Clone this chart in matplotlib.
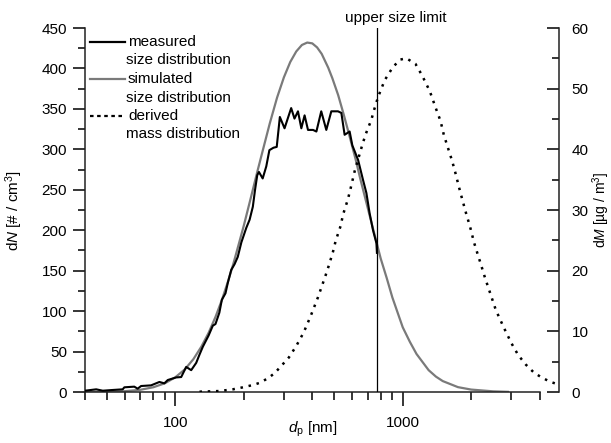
import numpy as np
import matplotlib
matplotlib.use("Agg")
import matplotlib.pyplot as plt
from matplotlib.ticker import LogLocator, NullFormatter, FixedLocator, FixedFormatter, MultipleLocator

plt.rcParams['font.family'] = ['Liberation Sans', 'DejaVu Sans']
plt.rcParams['font.size'] = 11
plt.rcParams['mathtext.fontset'] = 'custom'
plt.rcParams['mathtext.rm'] = 'Liberation Sans'
plt.rcParams['mathtext.it'] = 'Liberation Sans:italic'

# measured number size distribution (dN, #/cm3)
meas_d = [40, 44.8, 47.9, 53, 58.6, 59.6, 65.9, 68.2, 70.6, 78.1, 85, 89.4, 92.5,
          100.7, 106, 111.5, 117.3, 123.4, 127.5, 132, 140, 146, 150, 156, 160, 166,
          170, 176, 182, 188, 195, 205, 212, 219, 224, 229, 233, 242, 251, 259, 270,
          279, 288, 302, 323, 334, 346, 358, 370, 383, 403, 417, 438, 461, 485, 519,
          537, 555, 584, 600, 636, 669, 692, 715, 740, 766, 770]
meas_n = [1.6, 3.3, 1.6, 2.5, 3.3, 5.8, 6.6, 4.1, 7.4, 8.2, 12.4, 10.7, 14.8,
          18, 18.5, 31, 27, 36, 46, 56, 70, 82, 84, 98, 114, 122,
          135, 151, 158, 167, 185, 203, 213, 229, 250, 268, 272, 264, 279, 299, 302,
          303, 340, 326, 351, 338, 347, 326, 342, 324, 324, 322, 347, 324, 347, 347,
          345, 318, 322, 305, 287, 262, 246, 221, 200, 184, 172]

# simulated number size distribution
sim_d = [40, 50, 60, 70, 80, 90, 100, 110, 120, 130, 140, 150, 160, 170, 180, 190,
         200, 215, 230, 245, 260, 280, 300, 320, 340, 360, 380, 400, 420, 440, 470,
         490, 520, 550, 580, 620, 650, 720, 800, 850, 900, 950, 1000, 1075, 1150,
         1300, 1400, 1500, 1750, 2000, 2500, 2900]
sim_n = [0.1, 0.3, 1.0, 2.7, 5.9, 10.9, 18.3, 28, 40.7, 56, 73.3, 92.7, 113.6, 136,
         159, 183, 206, 241, 274, 304, 332, 364, 389, 408, 421, 429, 432, 431, 426,
         418, 401, 388, 367, 343, 319, 288, 264, 215, 165, 141, 117, 98, 80, 62, 47,
         27, 19, 13.5, 6, 3, 0.8, 0.2]

# derived mass distribution (dM, ug/m3)
mass_d = [127.6, 156.2, 178.8, 197.9, 219.1, 234.4, 255, 273.1, 292.2, 315.6, 340.2,
          366.4, 393.3, 423.6, 456.6, 473.5, 493.2, 506.8, 533.3, 545.8, 574.1, 590.1,
          614.5, 664.6, 687.2, 728.1, 745.3, 778.5, 833.2, 906.4, 977, 1038, 1137,
          1216, 1315, 1416, 1466, 1516, 1573, 1649, 1700, 1770, 1832, 1908, 1973,
          2061, 2125, 2222, 2298, 2400, 2569, 2786, 3012, 3220, 3483, 3777, 4083,
          4443, 4783]
mass_m = [0.05, 0.16, 0.44, 0.77, 1.15, 1.5, 2.25, 3.1, 4.3, 5.7, 7.6,
          9.8, 12.5, 15.6, 19.1, 20.9, 23.1, 24.9, 27.4, 29.2, 31.8, 33.6,
          36.4, 40.8, 42.5, 44.9, 46.3, 48.6, 51.4, 53.6, 54.8, 55, 54.1,
          52.2, 49.6, 46.2, 44.7, 42.4, 40.5, 38.1, 36.3, 33.7, 31.6, 29.2, 27.4,
          24.6, 23.0, 20.7, 18.9, 16.8, 13.5, 10.6, 8.0, 6.1, 4.5, 3.2, 2.4,
          1.7, 1.3]

upper_limit = 773

fig = plt.figure(figsize=(6.11, 4.43), dpi=100)
ax = fig.add_axes([85/611, 1-392/443, 474/611, 364/443])
ax2 = ax.twinx()

ax.plot(sim_d, sim_n, color='#7a7a7a', lw=1.6, zorder=2)
ax.plot(meas_d, meas_n, color='black', lw=1.5, zorder=3)
ax2.plot(mass_d, mass_m, color='black', lw=1.8, linestyle=(0, (1.0, 2.3)))
ax.axvline(upper_limit, color='black', lw=0.9, zorder=4)

ax.set_xscale('log')
ax.set_xlim(40, 4870)
ax.set_ylim(0, 450)
ax2.set_ylim(0, 60)

ax.xaxis.set_major_locator(FixedLocator([100, 1000]))
ax.xaxis.set_major_formatter(FixedFormatter(['100', '1000']))
ax.xaxis.set_minor_locator(LogLocator(base=10, subs=np.arange(2, 10)))
ax.xaxis.set_minor_formatter(NullFormatter())
ax.yaxis.set_major_locator(MultipleLocator(50))
ax.yaxis.set_minor_locator(MultipleLocator(25))
ax2.yaxis.set_major_locator(MultipleLocator(10))
ax2.yaxis.set_minor_locator(MultipleLocator(5))

for s in ['top', 'right']:
    ax.spines[s].set_visible(False)
for s in ['top', 'left', 'bottom']:
    ax2.spines[s].set_visible(False)
for sp in [ax.spines['left'], ax.spines['bottom'], ax2.spines['right']]:
    sp.set_linewidth(1.1)
    sp.set_color('#222222')
ax.spines['bottom'].set_bounds(40, 4000)

ax.tick_params(axis='y', which='major', direction='out', length=9, width=1.1, pad=4)
ax.tick_params(axis='y', which='minor', direction='out', length=5, width=1.1)
ax.tick_params(axis='x', which='major', direction='out', length=10, width=1.1, pad=7)
ax.tick_params(axis='x', which='minor', direction='out', length=5.5, width=1.1)
ax2.tick_params(axis='y', which='major', direction='in', length=9, width=1.1, pad=9)
ax2.tick_params(axis='y', which='minor', direction='in', length=5, width=1.1)

ax.set_ylabel('d$N$ [# / cm$^3$]')
ax.yaxis.set_label_coords(-0.127, 0.5)
ax2.set_ylabel('d$M$ [µg / m$^3$]', fontsize=10)
ax2.yaxis.set_label_coords(1.066, 0.5)
ax.set_xlabel('$d_\\mathrm{p}$ [nm]')
ax.xaxis.set_label_coords(0.481, -0.075)

ax.text(931, 1.0165, 'upper size limit', transform=ax.get_xaxis_transform(),
        ha='center', va='baseline')

# legend drawn by hand: handle next to the first line of each two-line label
leg = [('black', '-', 'measured'), ('#7a7a7a', '-', 'simulated'),
       ('black', (0, (1.6, 1.6)), 'derived')]
second = ['size distribution', 'size distribution', 'mass distribution']
for i, (c, ls, lab) in enumerate(leg):
    y0 = 42 + i * 37
    fig.add_artist(plt.Line2D([90/611, 125/611], [1-y0/443, 1-y0/443], color=c,
                              lw=1.6, linestyle=ls))
    fig.text(128/611, 1-y0/443, lab, va='center', ha='left')
    fig.text(126/611, 1-(y0+18.5)/443, second[i], va='center', ha='left')

fig.savefig('out.png', dpi=100)
